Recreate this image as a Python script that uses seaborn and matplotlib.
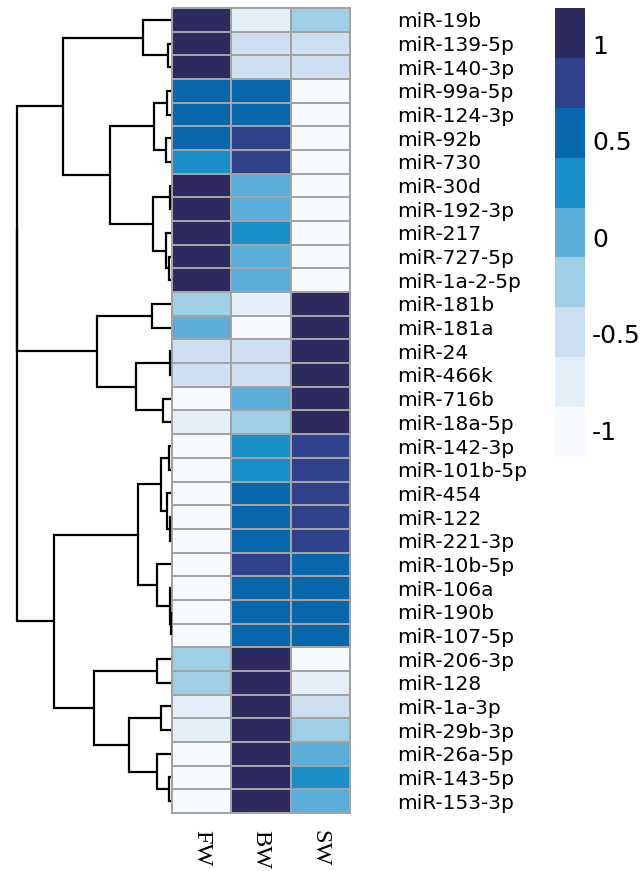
import numpy as np
import pandas as pd
import matplotlib
matplotlib.use("Agg")
import matplotlib.pyplot as plt
from matplotlib.colors import ListedColormap
import seaborn as sns

# ---- data -------------------------------------------------------------
mirnas = ["miR-19b", "miR-139-5p", "miR-140-3p", "miR-99a-5p", "miR-124-3p",
          "miR-92b", "miR-730", "miR-30d", "miR-192-3p", "miR-217",
          "miR-727-5p", "miR-1a-2-5p", "miR-181b", "miR-181a", "miR-24",
          "miR-466k", "miR-716b", "miR-18a-5p", "miR-142-3p", "miR-101b-5p",
          "miR-454", "miR-122", "miR-221-3p", "miR-10b-5p", "miR-106a",
          "miR-190b", "miR-107-5p", "miR-206-3p", "miR-128", "miR-1a-3p",
          "miR-29b-3p", "miR-26a-5p", "miR-143-5p", "miR-153-3p"]
groups = ["FW", "BW", "SW"]

fw = [1.05, 1.05, 1.05, 0.55, 0.55, 0.55, 0.3, 1.05, 1.05, 1.05, 1.05, 1.05,
      -0.23, 0.05, -0.5, -0.5, -1.0, -0.75, -1.0, -1.0, -1.0, -1.0, -1.0,
      -1.0, -1.0, -1.0, -1.0, -0.23, -0.23, -0.75, -0.75, -1.0, -1.0, -1.0]
bw = [-0.75, -0.5, -0.5, 0.55, 0.55, 0.8, 0.8, 0.05, 0.05, 0.3, 0.05, 0.05,
      -0.75, -1.0, -0.5, -0.5, 0.05, -0.23, 0.3, 0.3, 0.55, 0.55, 0.55,
      0.8, 0.55, 0.55, 0.55, 1.05, 1.05, 1.05, 1.05, 1.05, 1.05, 1.05]
sw = [-0.23, -0.5, -0.5, -1.0, -1.0, -1.0, -1.0, -1.0, -1.0, -1.0, -1.0, -1.0,
      1.05, 1.05, 1.05, 1.05, 1.05, 1.05, 0.8, 0.8, 0.8, 0.8, 0.8,
      0.55, 0.55, 0.55, 0.55, -1.0, -0.75, -0.5, -0.23, 0.05, 0.3, 0.05]

# row dendrogram: merges of (left, right) cluster ids with their heights;
# ids < 34 are leaves, id 34 + k is the k-th merge
merge_pairs = [(1, 2), (0, 34), (3, 4), (5, 6), (36, 37), (7, 8), (10, 11),
               (9, 40), (39, 41), (38, 42), (35, 43), (12, 13), (14, 15),
               (16, 17), (46, 47), (45, 48), (44, 49), (18, 19), (21, 22),
               (20, 52), (51, 53), (25, 26), (24, 55), (23, 56), (54, 57),
               (27, 28), (29, 30), (32, 33), (31, 61), (60, 62), (59, 63),
               (58, 64), (50, 65)]
merge_heights = [0.02, 0.18, 0.026, 0.032, 0.11, 0.006, 0.01, 0.032, 0.117,
                 0.396, 0.70, 0.123, 0.006, 0.052, 0.227, 0.48, 1.0, 0.013,
                 0.006, 0.026, 0.065, 0.003, 0.006, 0.09, 0.214, 0.09, 0.065,
                 0.013, 0.09, 0.273, 0.5, 0.76, 1.0]

palette = ["#f7fbff", "#e3eef8", "#cddff1", "#9ecfe4", "#5aaed9",
           "#1b90c8", "#0868ae", "#2e418a", "#2c2a5e"]
vmin, vmax = -1.14, 1.19

df = pd.DataFrame({"FW": fw, "BW": bw, "SW": sw}, index=mirnas)[groups]

# ---- figure -----------------------------------------------------------
sns.set_theme(style="white")
plt.rcParams["font.family"] = ["DejaVu Sans"]
plt.rcParams["text.color"] = "black"
plt.rcParams["xtick.color"] = "black"
plt.rcParams["ytick.color"] = "black"
plt.rcParams["xtick.labelcolor"] = "black"
plt.rcParams["ytick.labelcolor"] = "black"

W, H = 641, 871
fig = plt.figure(figsize=(W / 100, H / 100), dpi=100)

def px_axes(x0, y0, x1, y1):
    return fig.add_axes([x0 / W, 1 - y1 / H, (x1 - x0) / W, (y1 - y0) / H])

ax = px_axes(172, 8, 350, 813)
ax_d = px_axes(17, 8, 171, 813)
cax = px_axes(555, 8, 585, 457)

grid = "#a3a3a3"
sns.heatmap(df, ax=ax, cmap=ListedColormap(palette), vmin=vmin, vmax=vmax,
            linewidths=1.4, linecolor=grid, cbar_ax=cax,
            cbar_kws={"ticks": [-1, -0.5, 0, 0.5, 1]})
ax.collections[0].set_clip_on(False)
for s in ax.spines.values():
    s.set_visible(False)

ax.yaxis.tick_right()
ax.set_yticks(np.arange(len(mirnas)) + 0.5)
ax.set_yticklabels(mirnas, rotation=0, fontsize=14.5, ha="left", color="black")
ax.tick_params(axis="y", length=0, pad=34)
ax.set_xticks(np.arange(len(groups)) + 0.5)
ax.set_xticklabels(groups, rotation=270, fontsize=17.5, color="black",
                   family="Liberation Serif", ha="center", va="top")
ax.tick_params(axis="x", length=0, pad=12)
ax.set_xlabel("")
ax.set_ylabel("")

cbar = ax.collections[0].colorbar
cbar.outline.set_visible(False)
cbar.ax.tick_params(length=0, labelsize=18, pad=5, labelcolor="black")
cbar.ax.set_yticklabels(["-1", "-0.5", "0", "0.5", "1"], color="black")

# ---- dendrogram -------------------------------------------------------
n = len(mirnas)
pos = {i: i + 0.5 for i in range(n)}
hgt = {i: 0.0 for i in range(n)}
for k, ((a, b), h) in enumerate(zip(merge_pairs, merge_heights)):
    cid = n + k
    ya, yb = pos[a], pos[b]
    ax_d.plot([hgt[a], h, h, hgt[b]], [ya, ya, yb, yb], color="black",
              lw=1.6, solid_capstyle="butt", solid_joinstyle="miter",
              clip_on=False)
    pos[cid] = (ya + yb) / 2
    hgt[cid] = h

ax_d.set_xlim(1.0, 0.0)
ax_d.set_ylim(n, 0)
ax_d.axis("off")

fig.savefig("out.png", dpi=100, facecolor="white")
